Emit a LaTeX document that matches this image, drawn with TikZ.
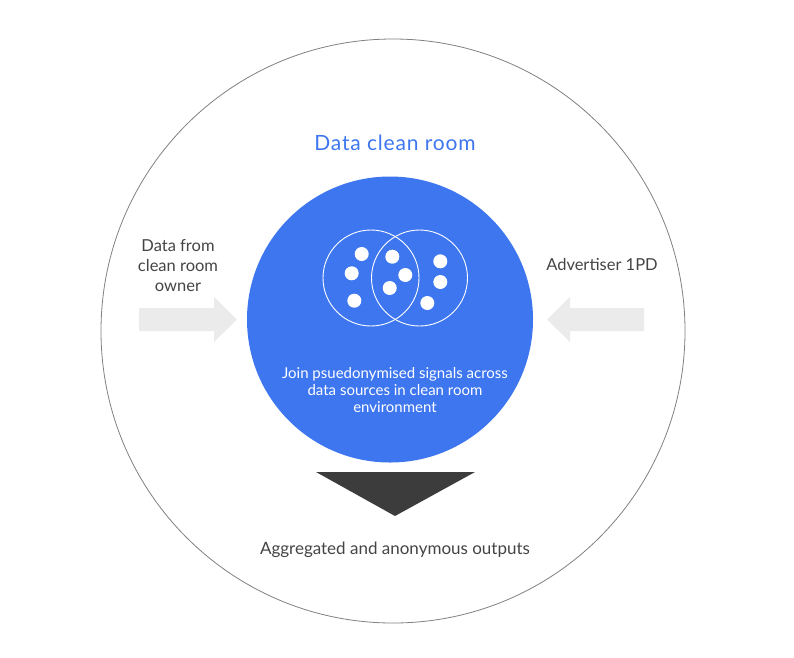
\documentclass[tikz,border=0pt]{standalone}
\usepackage{fontspec}
\setmainfont{Lato}
\definecolor{roomblue}{HTML}{3D76EF}
\definecolor{funnelgrey}{HTML}{3C3C3C}
\definecolor{arrowgrey}{HTML}{EBEBEB}
\definecolor{textgrey}{HTML}{444444}
\begin{document}
\begin{tikzpicture}[x=1pt, y=-1pt,
    sidetext/.style={text=textgrey, align=center, font=\fontsize{16.5}{20}\selectfont},
    signal/.style={circle, fill=white, inner sep=0pt, minimum size=14pt},
    source/.style={circle, draw=white, line width=0.9pt, inner sep=0pt, minimum size=96pt}]
    \useasboundingbox (0, 0) rectangle (794, 657);

    % Aeusserer Kreis
    \node [circle, draw=gray, line width=0.8pt, inner sep=0pt, minimum size=584pt] (outer) at (393, 331) {};

    % Clean room
    \node [circle, fill=roomblue, inner sep=0pt, minimum size=286pt] (room) at (390, 319.5) {};
    \node [text=roomblue, font=\fontsize{21}{24}\selectfont\addfontfeatures{LetterSpace=4}] (title) at (395, 143) {Data clean room};

    % Datenquellen
    \node [source] (srcA) at (371, 278) {};
    \node [source] (srcB) at (419.5, 278) {};
    \foreach \x/\y in {361.7/254, 351.7/273.3, 354.3/300.7, 392.3/256.7, 405.3/275,
                       389.7/288, 440.3/261.3, 440.3/282, 427.3/303}
        \node [signal] at (\x, \y) {};

    \node [text=white, align=center, font=\fontsize{15}{17}\selectfont] (join) at (395, 390)
        {Join psuedonymised signals across\\data sources in clean room\\environment};

    % Eingaenge
    \node [sidetext] (owner) at (178, 266) {Data from\\clean room\\owner};
    \node [sidetext] (advertiser) at (602, 264) {Advertiser 1PD};
    \fill [arrowgrey] (139, 308) -- (214, 308) -- (214, 297) -- (237, 319.5)
        -- (214, 342) -- (214, 331) -- (139, 331) -- cycle;
    \fill [arrowgrey] (644, 308) -- (570, 308) -- (570, 297) -- (547, 319.5)
        -- (570, 342) -- (570, 331) -- (644, 331) -- cycle;

    % Ausgabe
    \fill [funnelgrey] (316, 472) -- (475, 472) -- (395, 516) -- cycle;
    \node [text=textgrey, font=\fontsize{17}{20}\selectfont] (output) at (395, 550)
        {Aggregated and anonymous outputs};
\end{tikzpicture}
\end{document}
